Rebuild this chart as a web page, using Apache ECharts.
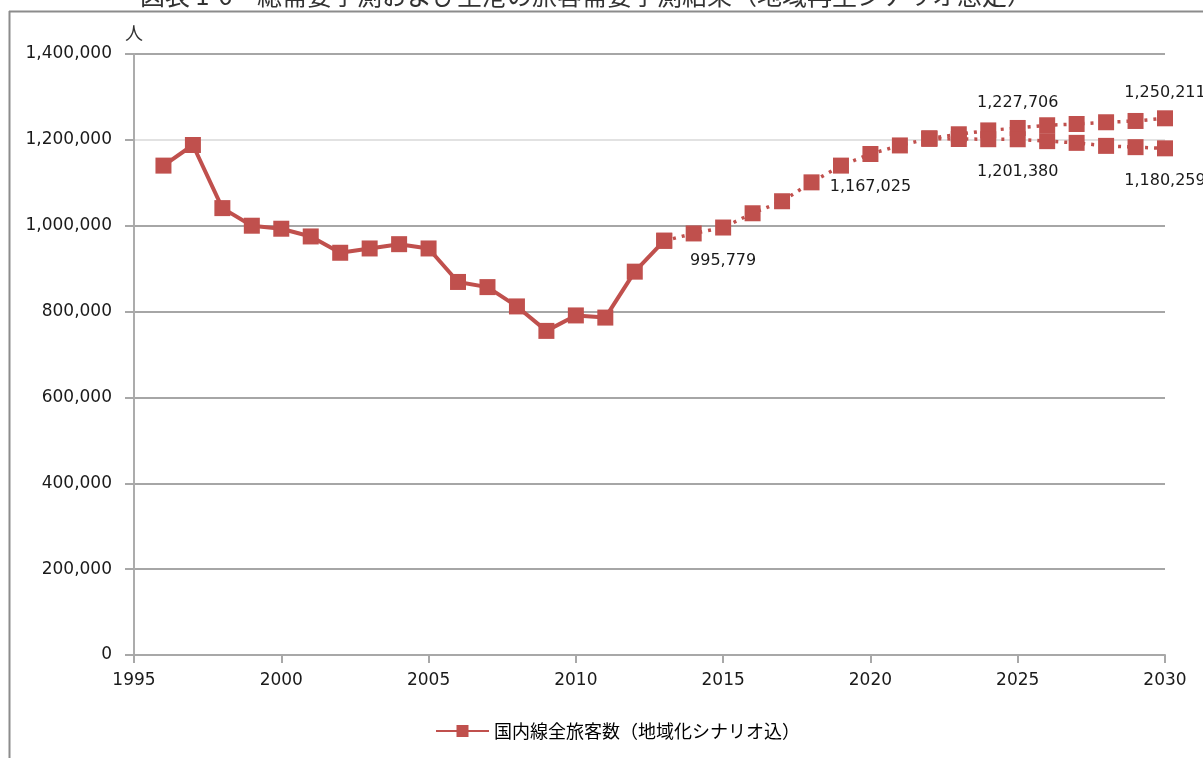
<!DOCTYPE html>
<html>
<head>
<meta charset="utf-8">
<script src="https://cdn.jsdelivr.net/npm/echarts@6/dist/echarts.min.js"></script>
<style>
  html, body { margin: 0; padding: 0; background: #fff; }
  #chart { width: 1203px; height: 758px; }
</style>
</head>
<body>
<div id="chart"></div>
<script>
// Domestic passenger totals (people), actual results
const actualYears = [1996, 1997, 1998, 1999, 2000, 2001, 2002, 2003, 2004, 2005, 2006, 2007, 2008, 2009, 2010, 2011, 2012, 2013];
const actualValues = [1140000, 1188000, 1041000, 1000000, 993000, 975000, 937000, 947000, 957000, 947000, 869000, 857000, 812000, 755000, 791000, 786000, 893000, 965000];

// Forecast up to the point where the scenarios split
const forecastYears = [2013, 2014, 2015, 2016, 2017, 2018, 2019, 2020, 2021, 2022];
const forecastValues = [965000, 982000, 995779, 1029000, 1057000, 1101000, 1140000, 1167025, 1187000, 1203000];

// Scenario branches after the split
const branchYears = [2022, 2023, 2024, 2025, 2026, 2027, 2028, 2029, 2030];
const upperValues = [1203000, 1213000, 1222000, 1227706, 1234000, 1237000, 1241000, 1244000, 1250211];
const lowerValues = [1203000, 1202000, 1201500, 1201380, 1197000, 1193000, 1186000, 1183000, 1180259];

// Years whose values are printed next to the markers
const labelledYears = [2015, 2020, 2025, 2030];

const yTicks = { min: 0, max: 1400000, interval: 200000 };
const xTicks = { min: 1995, max: 2030, interval: 5 };

const seriesName = '国内線全旅客数（地域化シナリオ込）';
const titleText = '図表 1-6　総需要予測および空港の旅客需要予測結果（地域再生シナリオ想定）';

const RED = '#c0504d';
const fmt = v => Number(v).toLocaleString('en-US');

function points(years, values, labelPos) {
  return years.map((y, i) => {
    const item = { value: [y, values[i]] };
    if (labelPos && labelledYears.indexOf(y) >= 0) {
      item.label = { show: true, position: labelPos, distance: labelPos === 'top' ? 9 : 17 };
    }
    return item;
  });
}

const labelStyle = {
  show: false,
  formatter: p => fmt(p.value[1]),
  fontFamily: 'DejaVu Sans',
  fontSize: 16,
  color: '#1a1a1a'
};

const chart = echarts.init(document.getElementById('chart'), null, { renderer: 'canvas' });

chart.setOption({
  animation: false,
  backgroundColor: '#ffffff',
  textStyle: { fontFamily: 'DejaVu Sans' },
  grid: { left: 134, right: 38, top: 54, bottom: 103, containLabel: false },
  legend: {
    data: [seriesName],
    left: 430,
    top: 717,
    itemWidth: 53,
    itemHeight: 15,
    textStyle: { fontFamily: 'Noto Sans CJK JP', fontSize: 18, color: '#000' }
  },
  graphic: [
    {
      type: 'text',
      left: 140,
      top: -17,
      silent: true,
      style: { text: titleText, font: '25px "Noto Sans CJK JP"', fill: '#333' }
    },
    {
      type: 'line',
      silent: true,
      shape: { x1: 9, y1: 11.5, x2: 1203, y2: 11.5 },
      style: { stroke: '#8c8c8c', lineWidth: 2 }
    },
    {
      type: 'line',
      silent: true,
      shape: { x1: 9.5, y1: 11, x2: 9.5, y2: 758 },
      style: { stroke: '#8c8c8c', lineWidth: 2 }
    }
  ],
  xAxis: {
    type: 'value',
    min: xTicks.min,
    max: xTicks.max,
    interval: xTicks.interval,
    axisLine: { show: true, lineStyle: { color: '#a8a8a8', width: 2 } },
    axisTick: { show: true, length: 8, lineStyle: { color: '#a8a8a8', width: 2 } },
    splitLine: { show: false },
    axisLabel: {
      margin: 17,
      fontFamily: 'DejaVu Sans',
      fontSize: 17,
      color: '#1a1a1a',
      formatter: v => String(v)
    }
  },
  yAxis: {
    type: 'value',
    min: yTicks.min,
    max: yTicks.max,
    interval: yTicks.interval,
    name: '人',
    nameLocation: 'end',
    nameGap: 12,
    nameTextStyle: { fontFamily: 'Noto Sans CJK JP', fontSize: 18, color: '#333', align: 'center' },
    axisLine: { show: true, lineStyle: { color: '#acacac', width: 2 } },
    axisTick: { show: true, length: 9, lineStyle: { color: '#a8a8a8', width: 2 } },
    splitLine: {
      show: true,
      showMinLine: true,
      showMaxLine: true,
      lineStyle: {
        color: ['#a6a6a6', '#a6a6a6', '#a6a6a6', '#a6a6a6', '#a6a6a6', '#a6a6a6', '#e2e2e2', '#a6a6a6'],
        width: 2
      }
    },
    axisLabel: {
      margin: 22,
      fontFamily: 'DejaVu Sans',
      fontSize: 17,
      color: '#1a1a1a',
      formatter: v => fmt(v)
    }
  },
  series: [
    {
      name: seriesName,
      type: 'line',
      data: points(actualYears, actualValues, null),
      symbol: 'rect',
      symbolSize: 16,
      itemStyle: { color: RED },
      lineStyle: { color: RED, width: 4 },
      z: 3
    },
    {
      name: 'forecast',
      type: 'line',
      data: points(forecastYears, forecastValues, 'bottom'),
      symbol: 'rect',
      symbolSize: 16,
      itemStyle: { color: RED },
      lineStyle: { color: RED, width: 3.5, type: [3, 6] },
      label: labelStyle,
      z: 3
    },
    {
      name: 'forecastUpper',
      type: 'line',
      data: points(branchYears, upperValues, 'top'),
      symbol: 'rect',
      symbolSize: 16,
      itemStyle: { color: RED },
      lineStyle: { color: RED, width: 3.5, type: [3, 6] },
      label: labelStyle,
      z: 3
    },
    {
      name: 'forecastLower',
      type: 'line',
      data: points(branchYears, lowerValues, 'bottom'),
      symbol: 'rect',
      symbolSize: 16,
      itemStyle: { color: RED },
      lineStyle: { color: RED, width: 3.5, type: [3, 6] },
      label: labelStyle,
      z: 3
    }
  ]
});
</script>
</body>
</html>
